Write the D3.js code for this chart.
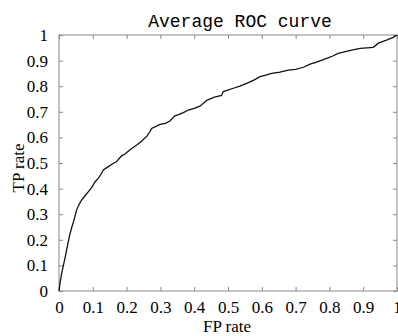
<!DOCTYPE html>
<html>
<head>
<meta charset="utf-8">
<script src="https://cdn.jsdelivr.net/npm/d3@7"></script>
<style>
  body { margin: 0; background: #fff; }
</style>
</head>
<body>
<div id="chart"></div>
<script>
// ROC curve points
const fpRate = [0, 0.003, 0.008, 0.013, 0.018, 0.027, 0.032, 0.037, 0.045, 0.052, 0.060, 0.067, 0.077, 0.087,
  0.097, 0.107, 0.116, 0.126, 0.131, 0.145, 0.161, 0.170, 0.185, 0.195, 0.215, 0.230, 0.245, 0.260, 0.269,
  0.274, 0.290, 0.299, 0.315, 0.328, 0.343, 0.355, 0.368, 0.383, 0.402, 0.417, 0.437, 0.460, 0.481, 0.486,
  0.516, 0.535, 0.555, 0.575, 0.595, 0.612, 0.629, 0.654, 0.678, 0.700, 0.723, 0.743, 0.760, 0.792, 0.810,
  0.826, 0.856, 0.891, 0.930, 0.945, 0.969, 0.989, 1];
const tpRate = [0, 0.03, 0.07, 0.10, 0.13, 0.19, 0.22, 0.245, 0.28, 0.316, 0.34, 0.355, 0.372, 0.388,
  0.405, 0.427, 0.440, 0.46, 0.473, 0.485, 0.499, 0.505, 0.528, 0.535, 0.557, 0.570, 0.586, 0.605, 0.622,
  0.635, 0.645, 0.651, 0.655, 0.664, 0.684, 0.690, 0.697, 0.707, 0.714, 0.722, 0.745, 0.757, 0.764, 0.779,
  0.792, 0.800, 0.811, 0.823, 0.837, 0.843, 0.850, 0.855, 0.863, 0.866, 0.874, 0.886, 0.893, 0.909, 0.918,
  0.928, 0.938, 0.948, 0.952, 0.968, 0.980, 0.991, 1];
const tickValues = [0, 0.1, 0.2, 0.3, 0.4, 0.5, 0.6, 0.7, 0.8, 0.9, 1];

const data = fpRate.map((x, i) => ({ x, y: tpRate[i] }));

const serif = '"Liberation Serif", "Times New Roman", "DejaVu Serif", serif';
const mono = '"Liberation Mono", "Courier New", "DejaVu Sans Mono", monospace';

const margin = { top: 35, right: 1, bottom: 45, left: 59 };
const totalW = 398, totalH = 336;
const width = totalW - margin.left - margin.right;
const height = totalH - margin.top - margin.bottom;

const svg = d3.select('#chart').append('svg')
    .attr('width', totalW)
    .attr('height', totalH)
    .style('display', 'block');

const g = svg.append('g')
    .attr('transform', `translate(${margin.left},${margin.top})`);

const xScale = d3.scaleLinear().domain([0, 1]).range([0, width]);
const yScale = d3.scaleLinear().domain([0, 1]).range([height, 0]);

const fmt = d => d === 0 ? '0' : d === 1 ? '1' : d3.format('.1f')(d);

// Axes with inward ticks
const styleAxis = sel => {
    sel.attr('font-family', serif).attr('font-size', 17);
    sel.select('.domain').remove();
    sel.selectAll('.tick line').attr('stroke', '#888');
    sel.selectAll('.tick text').attr('fill', '#000').style('font-family', serif).style('font-size', '17px');
};

g.append('g')
    .attr('transform', `translate(0,${height})`)
    .call(d3.axisBottom(xScale).tickValues(tickValues).tickFormat(fmt).tickSizeInner(-4).tickSizeOuter(0).tickPadding(10))
    .call(styleAxis);

g.append('g')
    .call(d3.axisLeft(yScale).tickValues(tickValues).tickFormat(fmt).tickSizeInner(-4).tickSizeOuter(0).tickPadding(11))
    .call(styleAxis);

g.append('g')
    .call(d3.axisTop(xScale).tickValues(tickValues).tickFormat('').tickSizeInner(-4).tickSizeOuter(0))
    .call(styleAxis);

g.append('g')
    .attr('transform', `translate(${width},0)`)
    .call(d3.axisRight(yScale).tickValues(tickValues).tickFormat('').tickSizeInner(-4).tickSizeOuter(0))
    .call(styleAxis);

// Box
g.append('rect')
    .attr('x', 0).attr('y', 0)
    .attr('width', width).attr('height', height)
    .attr('fill', 'none')
    .attr('stroke', '#888');

// Curve
g.append('path')
    .datum(data)
    .attr('fill', 'none')
    .attr('stroke', '#111')
    .attr('stroke-width', 1.3)
    .attr('d', d3.line().x(d => xScale(d.x)).y(d => yScale(d.y)));

// Labels
svg.append('text')
    .attr('x', 240)
    .attr('y', 27)
    .attr('text-anchor', 'middle')
    .style('font-family', mono)
    .style('font-size', '18px')
    .text('Average ROC curve');

svg.append('text')
    .attr('x', 227)
    .attr('y', 332)
    .attr('text-anchor', 'middle')
    .style('font-family', serif)
    .style('font-size', '17px')
    .text('FP rate');

svg.append('text')
    .attr('transform', 'rotate(-90)')
    .attr('x', -168)
    .attr('y', 24)
    .attr('text-anchor', 'middle')
    .style('font-family', serif)
    .style('font-size', '17px')
    .text('TP rate');
</script>
</body>
</html>
